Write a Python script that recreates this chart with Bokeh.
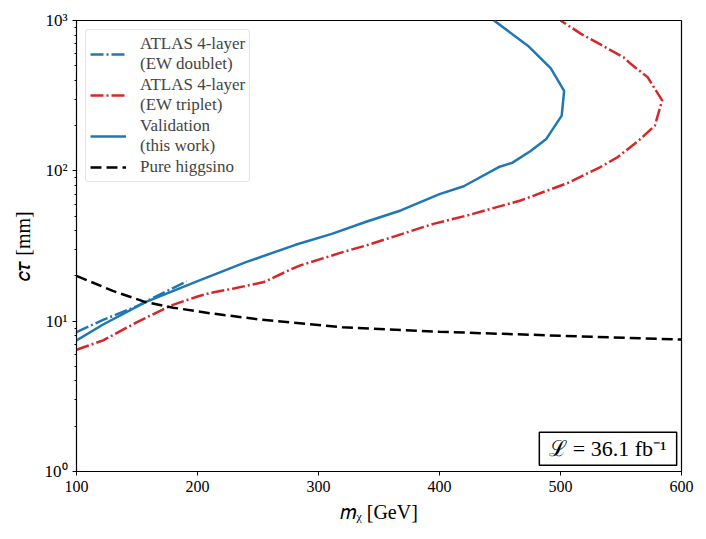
from bokeh.plotting import figure
from bokeh.models import FixedTicker, Legend, LegendItem, Label
from bokeh.embed import file_html
from bokeh.resources import INLINE

# ---- data ----
doublet_m = [100, 122, 150, 170, 191]
doublet_ct = [8.45, 10.2, 12.6, 15.2, 18.4]

triplet_m = [100, 122, 150, 178, 200, 211, 230, 255, 275, 285, 320, 340, 395, 423,
             467, 506, 533, 547, 565, 578, 584, 572, 558, 552, 517, 500]
triplet_ct = [6.45, 7.45, 9.85, 12.7, 14.6, 15.4, 16.5, 18.2, 21.7, 23.5, 28.8, 32.0,
              44.4, 50.5, 63.5, 83.0, 106, 123, 160, 200, 294, 420, 515, 570, 815, 1000]

valid_m = [100, 122, 157, 198, 240, 281, 311, 340, 368, 400, 420, 449, 460, 475,
           488, 501, 503, 492, 473, 445]
valid_ct = [7.44, 9.5, 13.4, 18.2, 24.7, 32.2, 38.1, 46.0, 54.5, 70.0, 79.0, 106, 113,
            135, 162, 233, 340, 480, 680, 1000]

higgsino_m = [100, 130, 157, 180, 210, 250, 320, 400, 500, 600]
higgsino_ct = [20.0, 15.9, 13.4, 12.3, 11.3, 10.3, 9.1, 8.5, 8.0, 7.55]

x_ticks = [100, 200, 300, 400, 500, 600]
y_ticks = [1, 10, 100, 1000]
y_tick_labels = {1: "10⁰", 10: "10¹", 100: "10²", 1000: "10³"}

lumi_text = "ℒ = 36.1 fb⁻¹"

SERIF = "Liberation Serif"
BLUE = "#1f77b4"
RED = "#d62728"

p = figure(width=698, height=533, x_range=(100, 600), y_range=(1, 1000),
           y_axis_type="log", output_backend="svg", toolbar_location=None,
           min_border_left=76, min_border_right=17, min_border_top=20,
           min_border_bottom=62, background_fill_color="white",
           border_fill_color="white")
p.grid.visible = False
p.outline_line_color = "black"
p.outline_line_width = 1.2

r_dbl = p.line(doublet_m, doublet_ct, line_color=BLUE, line_width=2.5, line_dash="13 3 2 3")
r_trp = p.line(triplet_m, triplet_ct, line_color=RED, line_width=2.5, line_dash="13 3 2 3")
r_val = p.line(valid_m, valid_ct, line_color=BLUE, line_width=2.5)
r_hig = p.line(higgsino_m, higgsino_ct, line_color="black", line_width=2.5, line_dash="11 5")

minor = [m * 10 ** d for d in range(3) for m in range(2, 10)]
p.yaxis.ticker = FixedTicker(ticks=y_ticks, minor_ticks=minor)
p.yaxis.major_label_overrides = y_tick_labels
p.xaxis.ticker = FixedTicker(ticks=x_ticks, minor_ticks=[])

for ax in (p.xaxis, p.yaxis):
    ax.major_label_text_font = SERIF
    ax.major_label_text_font_size = "16px"
    ax.major_label_text_color = "black"
    ax.axis_label_text_font = SERIF
    ax.axis_label_text_font_size = "20px"
    ax.axis_label_text_font_style = "normal"
    ax.axis_label_text_color = "black"
    ax.axis_line_color = "black"
    ax.major_tick_line_color = "black"
    ax.minor_tick_line_color = "black"
    ax.major_tick_out = 4
    ax.major_tick_in = 0
    ax.minor_tick_out = 2
    ax.minor_tick_in = 0

p.yaxis.major_label_text_font_size = "17px"
p.xaxis.axis_label = "𝑚ᵪ [GeV]"
p.yaxis.axis_label = "𝑐𝜏 [mm]"
p.xaxis.axis_label_standoff = 6
p.yaxis.axis_label_standoff = 8

legend = Legend(items=[
    LegendItem(label="ATLAS 4-layer\n(EW doublet)", renderers=[r_dbl]),
    LegendItem(label="ATLAS 4-layer\n(EW triplet)", renderers=[r_trp]),
    LegendItem(label="Validation\n(this work)", renderers=[r_val]),
    LegendItem(label="Pure higgsino", renderers=[r_hig]),
], location="top_left")
legend.margin = 9
legend.padding = 4
legend.spacing = 1
legend.glyph_width = 36
legend.glyph_height = 16
legend.label_height = 16
legend.label_standoff = 14
legend.label_text_font = SERIF
legend.label_text_font_size = "17px"
legend.label_text_line_height = 0.98
legend.border_line_color = "#cccccc"
legend.border_line_width = 1
legend.border_radius = 4
legend.background_fill_alpha = 0.8
p.add_layout(legend)

lab = Label(x=596, y=1.1, text=lumi_text, text_align="right", text_baseline="bottom",
            text_font=SERIF, text_font_size="22px", text_color="black",
            border_line_color="black", border_line_width=1.5,
            background_fill_color="white", padding=(10, 4))
p.add_layout(lab)

open("out.html", "w").write(file_html(p, INLINE))
